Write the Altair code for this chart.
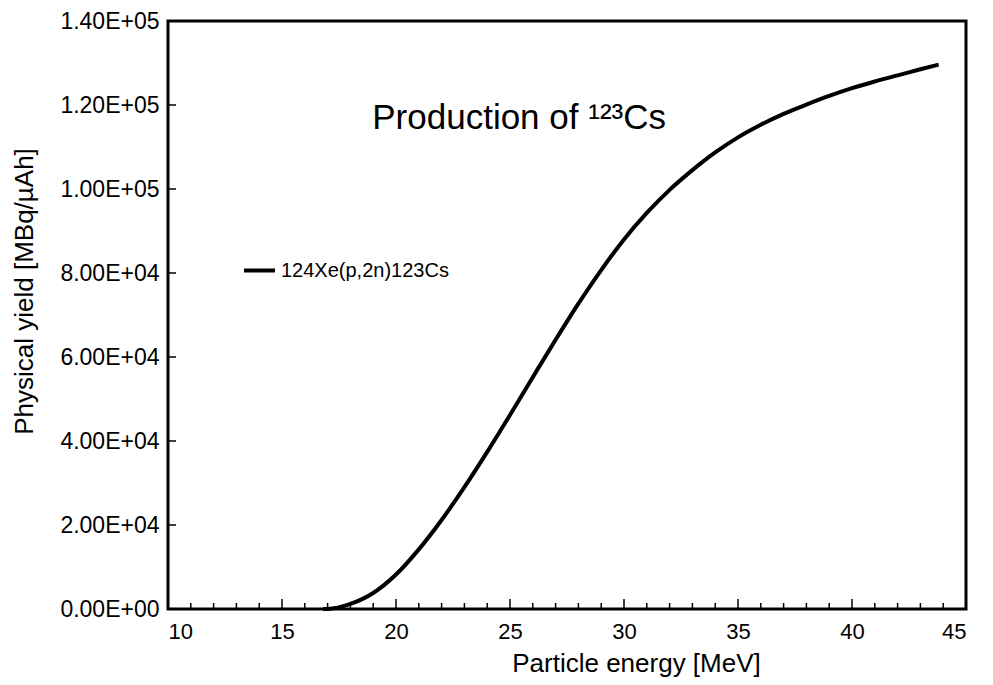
import altair as alt
import pandas as pd

energy = [16.8, 17.0, 18, 19, 20, 21, 22, 23, 24, 25, 26, 27, 28, 29, 30, 31, 32, 33,
          34, 35, 36, 37, 38, 39, 40, 41, 42, 43, 43.8]
yield_vals = [0, 0, 1200, 3800, 8200, 14200, 21200, 29000, 37400, 46200, 55200, 64100,
              72700, 80700, 88000, 94300, 99800, 104500, 108700, 112300, 115300, 117900,
              120100, 122150, 124000, 125600, 127050, 128500, 129600]
series_name = "124Xe(p,2n)123Cs"

x_ticks = list(range(10, 46, 5))
x_minor = list(range(10, 46, 1))
y_ticks = [0, 20000, 40000, 60000, 80000, 100000, 120000, 140000]

title_text = "Production of \u00b9\u00b2\u00b3Cs"
title_pos = {"x": 25.4, "y": 117000}

W, H = 798, 588
FONT = "Liberation Sans"
TXT = "#000000"

df = pd.DataFrame({"energy": energy, "yield": yield_vals, "series": series_name})

xs = alt.Scale(domain=[10, 45], nice=False)
ys = alt.Scale(domain=[0, 140000], nice=False)

line = alt.Chart(df).mark_line(color="black", strokeWidth=4, interpolate="monotone").encode(
    x=alt.X("energy:Q", scale=xs,
            axis=alt.Axis(values=x_ticks, title="Particle energy [MeV]", grid=False,
                          ticks=False, domain=False, labelPadding=12, labelFontSize=22,
                          titleFontSize=26, titleFontWeight="normal", titlePadding=8,
                          titleX=468, labelFont=FONT, titleFont=FONT,
                          labelColor=TXT, titleColor=TXT)),
    y=alt.Y("yield:Q", scale=ys,
            axis=alt.Axis(values=y_ticks, title="Physical yield [MBq/\u00b5Ah]", grid=False,
                          ticks=False, domain=False, labelPadding=9, labelFontSize=23,
                          titleFontSize=26, titleFontWeight="normal", titlePadding=22,
                          titleY=270, labelFont=FONT, titleFont=FONT,
                          labelExpr="replace(format(datum.value, '.2e'), 'e+', 'E+0')",
                          labelColor=TXT, titleColor=TXT)),
    color=alt.Color("series:N", scale=alt.Scale(range=["black"]),
                    legend=alt.Legend(title=None, orient="none", legendX=74, legendY=232,
                                      symbolType="stroke", symbolSize=961,
                                      symbolStrokeWidth=4, labelFontSize=20, labelFont=FONT,
                                      labelOffset=4, labelColor=TXT, labelLimit=500)),
)

minor_df = pd.DataFrame({"t": [v for v in x_minor if v not in x_ticks]})
major_df = pd.DataFrame({"t": x_ticks})
ymaj_df = pd.DataFrame({"t": y_ticks})

minor_rules = alt.Chart(minor_df).mark_rule(color="black", strokeWidth=1.5).encode(
    x=alt.X("t:Q", scale=xs), y=alt.value(H), y2=alt.value(H - 6))
major_rules = alt.Chart(major_df).mark_rule(color="black", strokeWidth=1.5).encode(
    x=alt.X("t:Q", scale=xs), y=alt.value(H), y2=alt.value(H - 10))
y_rules = alt.Chart(ymaj_df).mark_rule(color="black", strokeWidth=1.5).encode(
    y=alt.Y("t:Q", scale=ys), x=alt.value(0), x2=alt.value(8))

title_df = pd.DataFrame([{"x": title_pos["x"], "y": title_pos["y"], "label": title_text}])
title = alt.Chart(title_df).mark_text(fontSize=35, font=FONT, color=TXT,
                                      align="center", baseline="middle").encode(
    x=alt.X("x:Q", scale=xs), y=alt.Y("y:Q", scale=ys), text="label:N")

chart = alt.layer(minor_rules, major_rules, y_rules, line, title).properties(
    width=W, height=H,
    autosize=alt.AutoSizeParams(type="none"),
    padding={"left": 160, "top": 13, "right": 10, "bottom": 70},
).configure(background="white").configure_view(stroke="black", strokeWidth=3)

chart.save("out.html", embed_options={"renderer": "svg", "actions": False})
